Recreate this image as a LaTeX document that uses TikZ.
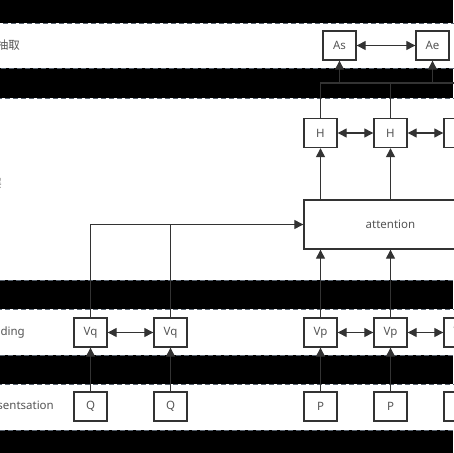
\documentclass[tikz,border=0pt]{standalone}
\usepackage{fontspec}
\setmainfont{Noto Sans}
\newfontfamily\cjk{Noto Sans CJK SC}
\usetikzlibrary{arrows.meta}
\definecolor{linegray}{HTML}{333333}
\definecolor{textgray}{HTML}{555555}
\definecolor{lanegray}{HTML}{5A6470}
\tikzset{
  box/.style={draw=linegray, line width=1.4pt, fill=white, minimum width=33pt, minimum height=29pt, inner sep=0pt, text=textgray, font=\fontsize{11.5}{13}\selectfont},
  lane/.style={draw=lanegray, line width=1pt, dash pattern=on 5pt off 3pt, fill=white},
  lanelabel/.style={anchor=east, inner sep=0pt, text=textgray, font=\fontsize{11.5}{13}\selectfont},
  wire/.style={draw=linegray, line width=1.3pt},
  link/.style={wire, -{Triangle[length=9pt,width=9pt]}},
  dlink/.style={wire, {Triangle[length=9pt,width=9pt]}-{Triangle[length=9pt,width=9pt]}}
}

\begin{document}
\begin{tikzpicture}[x=1pt, y=-1pt]
    \useasboundingbox (0,0) rectangle (453,453);
    % Background and lanes
    \fill[black] (0,0) rectangle (453,453);
    \draw[lane] (-10,23) rectangle (470,68);
    \draw[lane] (-10,98) rectangle (470,280);
    \draw[lane] (-10,309) rectangle (470,355);
    \draw[lane] (-10,384) rectangle (470,430);
    % Lane labels
    \node[lanelabel] (lblout) at (20,45.5) {\cjk 答案抽取};
    \node[lanelabel] (lblmid) at (2,183) {\cjk 交互层};
    \node[lanelabel] (lblemb) at (25,333) {embedding};
    \node[lanelabel] (lblrep) at (54,407) {representsation};
    % Input layer
    \node[box] (q1) at (90.5,406.5) {Q};
    \node[box] (q2) at (170.5,406.5) {Q};
    \node[box] (p1) at (320.5,406.5) {P};
    \node[box] (p2) at (390.5,406.5) {P};
    \node[box] (p3) at (460.5,406.5) {P};
    % Embedding layer
    \node[box] (vq1) at (90.5,332.5) {Vq};
    \node[box] (vq2) at (170.5,332.5) {Vq};
    \node[box] (vp1) at (320.5,332.5) {Vp};
    \node[box] (vp2) at (390.5,332.5) {Vp};
    \node[box] (vp3) at (460.5,332.5) {Vp};
    % Attention and hidden states
    \node[box, minimum width=173pt, minimum height=49pt] (att) at (390.5,224.5) {attention};
    \node[box] (h1) at (320.5,133) {H};
    \node[box] (h2) at (390.5,133) {H};
    \node[box] (h3) at (460.5,133) {H};
    % Output
    \node[box] (as) at (339.5,45.5) {As};
    \node[box] (ae) at (432.5,45.5) {Ae};
    \coordinate (bus) at (0,83);
    % Upward links
    \foreach \a/\b in {q1/vq1, q2/vq2, p1/vp1, p2/vp2, p3/vp3}
        \draw[link] (\a) -- (\b);
    \foreach \a in {vp1, vp2, vp3}
        \draw[link] (\a) -- (\a |- att.south);
    \foreach \a in {h1, h2, h3}
        \draw[link] (\a |- att.north) -- (\a);
    \draw[link] (vq1) |- (att.west);
    \draw[wire] (vq2) -- (vq2 |- att.west);
    % Bus to output
    \draw[wire] (h1) -- (h1 |- bus) -- (h3 |- bus) -- (h3);
    \draw[wire] (h2) -- (h2 |- bus);
    \draw[link] (as |- bus) -- (as);
    \draw[link] (ae |- bus) -- (ae);
    % Sideways links
    \foreach \a/\b in {vq1/vq2, vp1/vp2, vp2/vp3, h1/h2, h2/h3, as/ae}
        \draw[dlink] (\a) -- (\b);
\end{tikzpicture}
\end{document}
